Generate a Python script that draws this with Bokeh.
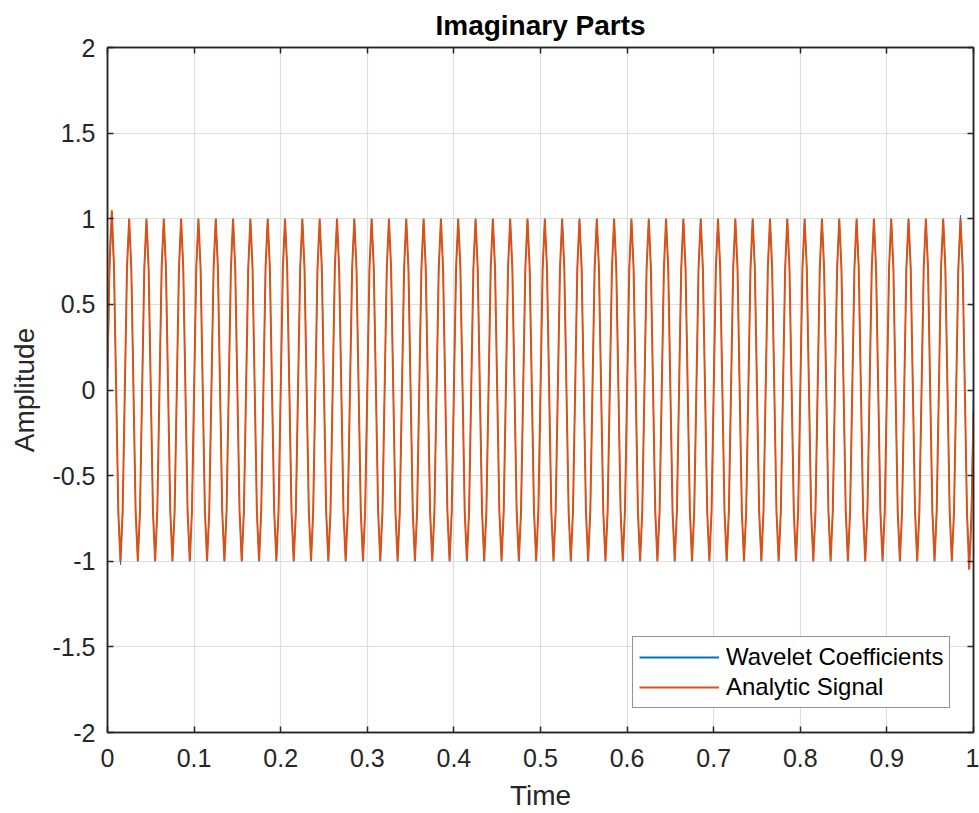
import numpy as np
from bokeh.plotting import figure
from bokeh.models import (Range1d, FixedTicker, LinearAxis, Legend, LegendItem,
                          NumeralTickFormatter)
from bokeh.embed import file_html
from bokeh.resources import INLINE

# ---- data ----
sample_step = 0.0025  # time between samples (s)

# Imaginary part of the analytic signal, one row per cycle (8 samples/cycle)
analytic_signal = [
    0.13, 0.78, 1.05, 0.72, 0.00, -0.71, -1.00, -0.71,
    0.00, 0.71, 1.00, 0.71, 0.00, -0.71, -1.00, -0.71,
    0.00, 0.71, 1.00, 0.71, 0.00, -0.71, -1.00, -0.71,
    0.00, 0.71, 1.00, 0.71, 0.00, -0.71, -1.00, -0.71,
    0.00, 0.71, 1.00, 0.71, 0.00, -0.71, -1.00, -0.71,
    0.00, 0.71, 1.00, 0.71, 0.00, -0.71, -1.00, -0.71,
    0.00, 0.71, 1.00, 0.71, 0.00, -0.71, -1.00, -0.71,
    0.00, 0.71, 1.00, 0.71, 0.00, -0.71, -1.00, -0.71,
    0.00, 0.71, 1.00, 0.71, 0.00, -0.71, -1.00, -0.71,
    0.00, 0.71, 1.00, 0.71, 0.00, -0.71, -1.00, -0.71,
    0.00, 0.71, 1.00, 0.71, 0.00, -0.71, -1.00, -0.71,
    0.00, 0.71, 1.00, 0.71, 0.00, -0.71, -1.00, -0.71,
    0.00, 0.71, 1.00, 0.71, 0.00, -0.71, -1.00, -0.71,
    0.00, 0.71, 1.00, 0.71, 0.00, -0.71, -1.00, -0.71,
    0.00, 0.71, 1.00, 0.71, 0.00, -0.71, -1.00, -0.71,
    0.00, 0.71, 1.00, 0.71, 0.00, -0.71, -1.00, -0.71,
    0.00, 0.71, 1.00, 0.71, 0.00, -0.71, -1.00, -0.71,
    0.00, 0.71, 1.00, 0.71, 0.00, -0.71, -1.00, -0.71,
    0.00, 0.71, 1.00, 0.71, 0.00, -0.71, -1.00, -0.71,
    0.00, 0.71, 1.00, 0.71, 0.00, -0.71, -1.00, -0.71,
    0.00, 0.71, 1.00, 0.71, 0.00, -0.71, -1.00, -0.71,
    0.00, 0.71, 1.00, 0.71, 0.00, -0.71, -1.00, -0.71,
    0.00, 0.71, 1.00, 0.71, 0.00, -0.71, -1.00, -0.71,
    0.00, 0.71, 1.00, 0.71, 0.00, -0.71, -1.00, -0.71,
    0.00, 0.71, 1.00, 0.71, 0.00, -0.71, -1.00, -0.71,
    0.00, 0.71, 1.00, 0.71, 0.00, -0.71, -1.00, -0.71,
    0.00, 0.71, 1.00, 0.71, 0.00, -0.71, -1.00, -0.71,
    0.00, 0.71, 1.00, 0.71, 0.00, -0.71, -1.00, -0.71,
    0.00, 0.71, 1.00, 0.71, 0.00, -0.71, -1.00, -0.71,
    0.00, 0.71, 1.00, 0.71, 0.00, -0.71, -1.00, -0.71,
    0.00, 0.71, 1.00, 0.71, 0.00, -0.71, -1.00, -0.71,
    0.00, 0.71, 1.00, 0.71, 0.00, -0.71, -1.00, -0.71,
    0.00, 0.71, 1.00, 0.71, 0.00, -0.71, -1.00, -0.71,
    0.00, 0.71, 1.00, 0.71, 0.00, -0.71, -1.00, -0.71,
    0.00, 0.71, 1.00, 0.71, 0.00, -0.71, -1.00, -0.71,
    0.00, 0.71, 1.00, 0.71, 0.00, -0.71, -1.00, -0.71,
    0.00, 0.71, 1.00, 0.71, 0.00, -0.71, -1.00, -0.71,
    0.00, 0.71, 1.00, 0.71, 0.00, -0.71, -1.00, -0.71,
    0.00, 0.71, 1.00, 0.71, 0.00, -0.71, -1.00, -0.71,
    0.00, 0.71, 1.00, 0.71, 0.00, -0.71, -1.00, -0.71,
    0.00, 0.71, 1.00, 0.71, 0.00, -0.71, -1.00, -0.71,
    0.00, 0.71, 1.00, 0.71, 0.00, -0.71, -1.00, -0.71,
    0.00, 0.71, 1.00, 0.71, 0.00, -0.71, -1.00, -0.71,
    0.00, 0.71, 1.00, 0.71, 0.00, -0.71, -1.00, -0.71,
    0.00, 0.71, 1.00, 0.71, 0.00, -0.71, -1.00, -0.71,
    0.00, 0.71, 1.00, 0.71, 0.00, -0.71, -1.00, -0.71,
    0.00, 0.71, 1.00, 0.71, 0.00, -0.71, -1.00, -0.71,
    0.00, 0.71, 1.00, 0.71, 0.00, -0.71, -1.00, -0.71,
    0.00, 0.71, 1.00, 0.71, 0.00, -0.71, -1.00, -0.71,
    0.00, 0.71, 1.00, 0.71, 0.00, -0.72, -1.05, -0.78,
    -0.13,
]

# Imaginary part of the wavelet coefficients (mostly hidden under the analytic signal)
wavelet_coefficients = [
    0.00, 0.70, 0.99, 0.71, 0.00, -0.72, -1.02, -0.72,
    0.00, 0.71, 1.00, 0.71, 0.00, -0.71, -1.00, -0.71,
    0.00, 0.71, 1.00, 0.71, 0.00, -0.71, -1.00, -0.71,
    0.00, 0.71, 1.00, 0.71, 0.00, -0.71, -1.00, -0.71,
    0.00, 0.71, 1.00, 0.71, 0.00, -0.71, -1.00, -0.71,
    0.00, 0.71, 1.00, 0.71, 0.00, -0.71, -1.00, -0.71,
    0.00, 0.71, 1.00, 0.71, 0.00, -0.71, -1.00, -0.71,
    0.00, 0.71, 1.00, 0.71, 0.00, -0.71, -1.00, -0.71,
    0.00, 0.71, 1.00, 0.71, 0.00, -0.71, -1.00, -0.71,
    0.00, 0.71, 1.00, 0.71, 0.00, -0.71, -1.00, -0.71,
    0.00, 0.71, 1.00, 0.71, 0.00, -0.71, -1.00, -0.71,
    0.00, 0.71, 1.00, 0.71, 0.00, -0.71, -1.00, -0.71,
    0.00, 0.71, 1.00, 0.71, 0.00, -0.71, -1.00, -0.71,
    0.00, 0.71, 1.00, 0.71, 0.00, -0.71, -1.00, -0.71,
    0.00, 0.71, 1.00, 0.71, 0.00, -0.71, -1.00, -0.71,
    0.00, 0.71, 1.00, 0.71, 0.00, -0.71, -1.00, -0.71,
    0.00, 0.71, 1.00, 0.71, 0.00, -0.71, -1.00, -0.71,
    0.00, 0.71, 1.00, 0.71, 0.00, -0.71, -1.00, -0.71,
    0.00, 0.71, 1.00, 0.71, 0.00, -0.71, -1.00, -0.71,
    0.00, 0.71, 1.00, 0.71, 0.00, -0.71, -1.00, -0.71,
    0.00, 0.71, 1.00, 0.71, 0.00, -0.71, -1.00, -0.71,
    0.00, 0.71, 1.00, 0.71, 0.00, -0.71, -1.00, -0.71,
    0.00, 0.71, 1.00, 0.71, 0.00, -0.71, -1.00, -0.71,
    0.00, 0.71, 1.00, 0.71, 0.00, -0.71, -1.00, -0.71,
    0.00, 0.71, 1.00, 0.71, 0.00, -0.71, -1.00, -0.71,
    0.00, 0.71, 1.00, 0.71, 0.00, -0.71, -1.00, -0.71,
    0.00, 0.71, 1.00, 0.71, 0.00, -0.71, -1.00, -0.71,
    0.00, 0.71, 1.00, 0.71, 0.00, -0.71, -1.00, -0.71,
    0.00, 0.71, 1.00, 0.71, 0.00, -0.71, -1.00, -0.71,
    0.00, 0.71, 1.00, 0.71, 0.00, -0.71, -1.00, -0.71,
    0.00, 0.71, 1.00, 0.71, 0.00, -0.71, -1.00, -0.71,
    0.00, 0.71, 1.00, 0.71, 0.00, -0.71, -1.00, -0.71,
    0.00, 0.71, 1.00, 0.71, 0.00, -0.71, -1.00, -0.71,
    0.00, 0.71, 1.00, 0.71, 0.00, -0.71, -1.00, -0.71,
    0.00, 0.71, 1.00, 0.71, 0.00, -0.71, -1.00, -0.71,
    0.00, 0.71, 1.00, 0.71, 0.00, -0.71, -1.00, -0.71,
    0.00, 0.71, 1.00, 0.71, 0.00, -0.71, -1.00, -0.71,
    0.00, 0.71, 1.00, 0.71, 0.00, -0.71, -1.00, -0.71,
    0.00, 0.71, 1.00, 0.71, 0.00, -0.71, -1.00, -0.71,
    0.00, 0.71, 1.00, 0.71, 0.00, -0.71, -1.00, -0.71,
    0.00, 0.71, 1.00, 0.71, 0.00, -0.71, -1.00, -0.71,
    0.00, 0.71, 1.00, 0.71, 0.00, -0.71, -1.00, -0.71,
    0.00, 0.71, 1.00, 0.71, 0.00, -0.71, -1.00, -0.71,
    0.00, 0.71, 1.00, 0.71, 0.00, -0.71, -1.00, -0.71,
    0.00, 0.71, 1.00, 0.71, 0.00, -0.71, -1.00, -0.71,
    0.00, 0.71, 1.00, 0.71, 0.00, -0.71, -1.00, -0.71,
    0.00, 0.71, 1.00, 0.71, 0.00, -0.71, -1.00, -0.71,
    0.00, 0.71, 1.00, 0.71, 0.00, -0.71, -1.00, -0.71,
    0.00, 0.71, 1.00, 0.71, 0.00, -0.71, -1.00, -0.71,
    0.00, 0.72, 1.02, 0.72, 0.00, -0.71, -1.00, -0.70,
    0.00,
]

x_ticks = [0, 0.1, 0.2, 0.3, 0.4, 0.5, 0.6, 0.7, 0.8, 0.9, 1]
y_ticks = [-2, -1.5, -1, -0.5, 0, 0.5, 1, 1.5, 2]
series_labels = ["Wavelet Coefficients", "Analytic Signal"]
series_colors = ["#0072BD", "#D95319"]

time = np.round(np.arange(len(analytic_signal)) * sample_step, 4)

FONT = "Liberation Sans"
AXIS_COLOR = "#262626"

p = figure(width=979, height=813,
           x_range=Range1d(0, 1), y_range=Range1d(-2, 2),
           output_backend="svg", toolbar_location=None,
           min_border_left=107, min_border_right=6,
           min_border_top=47, min_border_bottom=80,
           title="Imaginary Parts")

p.background_fill_color = "white"
p.border_fill_color = "white"
p.outline_line_color = AXIS_COLOR
p.outline_line_width = 1.5

p.title.text_font = FONT
p.title.text_font_size = "28px"
p.title.text_font_style = "bold"
p.title.text_color = "#000000"
p.title.align = "center"
p.title.standoff = 13

xt = FixedTicker(ticks=x_ticks)
yt = FixedTicker(ticks=y_ticks)
fmt = NumeralTickFormatter(format="0.[0]")


def style_axis(ax, ticker, show_labels):
    ax.ticker = ticker
    ax.formatter = fmt
    ax.axis_line_color = AXIS_COLOR
    ax.axis_line_width = 1.5
    ax.major_tick_line_color = AXIS_COLOR
    ax.major_tick_line_width = 1.5
    ax.major_tick_in = 6
    ax.major_tick_out = 0
    ax.minor_tick_line_color = None
    ax.major_label_text_font = FONT
    if show_labels:
        ax.major_label_text_font_size = "25px"
        ax.major_label_text_color = AXIS_COLOR
    else:
        ax.major_label_text_font_size = "1px"
        ax.major_label_text_color = None
        ax.major_label_standoff = 0
    ax.axis_label_text_font = FONT
    ax.axis_label_text_font_size = "28px"
    ax.axis_label_text_font_style = "normal"
    ax.axis_label_text_color = AXIS_COLOR


xa = p.xaxis[0]
ya = p.yaxis[0]
style_axis(xa, xt, True)
style_axis(ya, yt, True)
xa.axis_label = "Time"
ya.axis_label = "Amplitude"
xa.major_label_standoff = 16
xa.axis_label_standoff = 10
ya.major_label_standoff = 12
ya.axis_label_standoff = 9

top_axis = LinearAxis()
right_axis = LinearAxis()
style_axis(top_axis, xt, False)
style_axis(right_axis, yt, False)
p.add_layout(top_axis, "above")
p.add_layout(right_axis, "right")

p.xgrid.ticker = xt
p.ygrid.ticker = yt
p.xgrid.grid_line_color = "#dedede"
p.ygrid.grid_line_color = "#dedede"
p.xgrid.grid_line_width = 1.2
p.ygrid.grid_line_width = 1.2

r_wav = p.line(time, wavelet_coefficients, line_color=series_colors[0], line_width=1.0)
r_ana = p.line(time, analytic_signal, line_color=series_colors[1], line_width=2.0)
# legend swatch for the (mostly hidden) wavelet line, at the usual line width
r_wav_key = p.line([np.nan], [np.nan], line_color=series_colors[0], line_width=2.0)

legend = Legend(items=[LegendItem(label=series_labels[0], renderers=[r_wav_key]),
                       LegendItem(label=series_labels[1], renderers=[r_ana])],
                location=(525, 24))
legend.margin = 0
legend.padding = 6
legend.spacing = 2
legend.glyph_width = 80
legend.glyph_height = 24
legend.label_height = 24
legend.label_standoff = 7
legend.label_text_font = FONT
legend.label_text_font_size = "24px"
legend.label_text_color = "#000000"
legend.border_line_color = AXIS_COLOR
legend.border_line_width = 1.5
legend.background_fill_color = "white"
legend.background_fill_alpha = 1.0
p.add_layout(legend)

open("out.html", "w").write(file_html(p, INLINE))
